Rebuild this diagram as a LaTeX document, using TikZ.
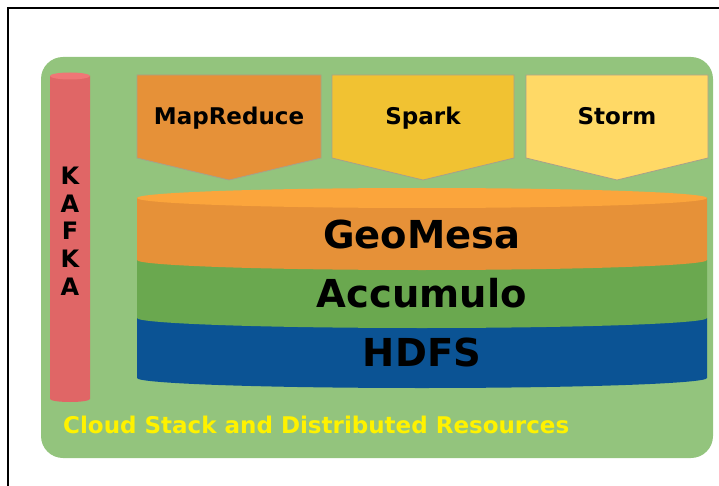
\documentclass[tikz,border=0pt]{standalone}
\usepackage{fontspec}
\setmainfont{DejaVu Sans}
\definecolor{bggreen}{HTML}{93C47D}
\definecolor{kafkared}{HTML}{E06666}
\definecolor{kafkatop}{HTML}{F07676}
\definecolor{mrorange}{HTML}{E69138}
\definecolor{sparkyel}{HTML}{F1C232}
\definecolor{stormyel}{HTML}{FFD966}
\definecolor{geotop}{HTML}{FBA53C}
\definecolor{accgreen}{HTML}{6AA84F}
\definecolor{hdfsblue}{HTML}{0B5394}
\definecolor{edgegray}{HTML}{A8A08A}
\begin{document}
\begin{tikzpicture}[x=1pt,y=-1pt,
  penta/.style={draw=edgegray,line width=0.8pt},
  toplabel/.style={anchor=base,font=\bfseries\fontsize{23}{27}\selectfont,inner sep=0pt},
  layerlabel/.style={anchor=base,font=\bfseries\fontsize{38.5}{42}\selectfont,inner sep=0pt},
  kafkaletter/.style={anchor=base,font=\bfseries\fontsize{24}{28}\selectfont,inner sep=0pt}]
\useasboundingbox (0,0) rectangle (719,486);
% frame
\draw[line width=2.4pt] (8,486) -- (8,8) -- (719,8);
% background
\fill[bggreen,rounded corners=22pt] (41,57) rectangle (713,458);
% kafka cylinder
\fill[kafkared] (50,76) -- (50,399) arc[start angle=180,end angle=0,x radius=20,y radius=3] -- (90,76) -- cycle;
\fill[kafkatop] (70,76) ellipse[x radius=20,y radius=3.5];
\foreach \l [count=\i] in {K,A,F,K,A}
  \node[kafkaletter] (kafka\i) at (70,{185+27.5*(\i-1)}) {\l};
% engines
\filldraw[penta,fill=mrorange] (137,75) -- (321,75) -- (321,158) -- (229,180) -- (137,158) -- cycle;
\filldraw[penta,fill=sparkyel] (332,75) -- (514,75) -- (514,158) -- (423,180) -- (332,158) -- cycle;
\filldraw[penta,fill=stormyel] (526,75) -- (708,75) -- (708,158) -- (617,180) -- (526,158) -- cycle;
\node[toplabel] (mr) at (229,125) {MapReduce};
\node[toplabel] (spark) at (423,125) {Spark};
\node[toplabel] (storm) at (617,125) {Storm};
% stack cylinder
\fill[hdfsblue] (137,318) -- (137,378) arc[start angle=180,end angle=0,x radius=285,y radius=10] -- (707,318) -- cycle;
\fill[accgreen] (137,260) -- (137,318) arc[start angle=180,end angle=0,x radius=285,y radius=10] -- (707,260) -- cycle;
\fill[mrorange] (137,198) -- (137,260) arc[start angle=180,end angle=0,x radius=285,y radius=10] -- (707,198) -- cycle;
\fill[geotop] (422,198) ellipse[x radius=285,y radius=10];
\node[layerlabel] (geomesa) at (422,248) {GeoMesa};
\node[layerlabel] (accumulo) at (422,307) {Accumulo};
\node[layerlabel] (hdfs) at (422,366) {HDFS};
% caption
\node[anchor=base west,inner sep=0pt,text=yellow,font=\bfseries\fontsize{23}{27}\selectfont] (cloud) at (63,433) {Cloud Stack and Distributed Resources};
\end{tikzpicture}
\end{document}
